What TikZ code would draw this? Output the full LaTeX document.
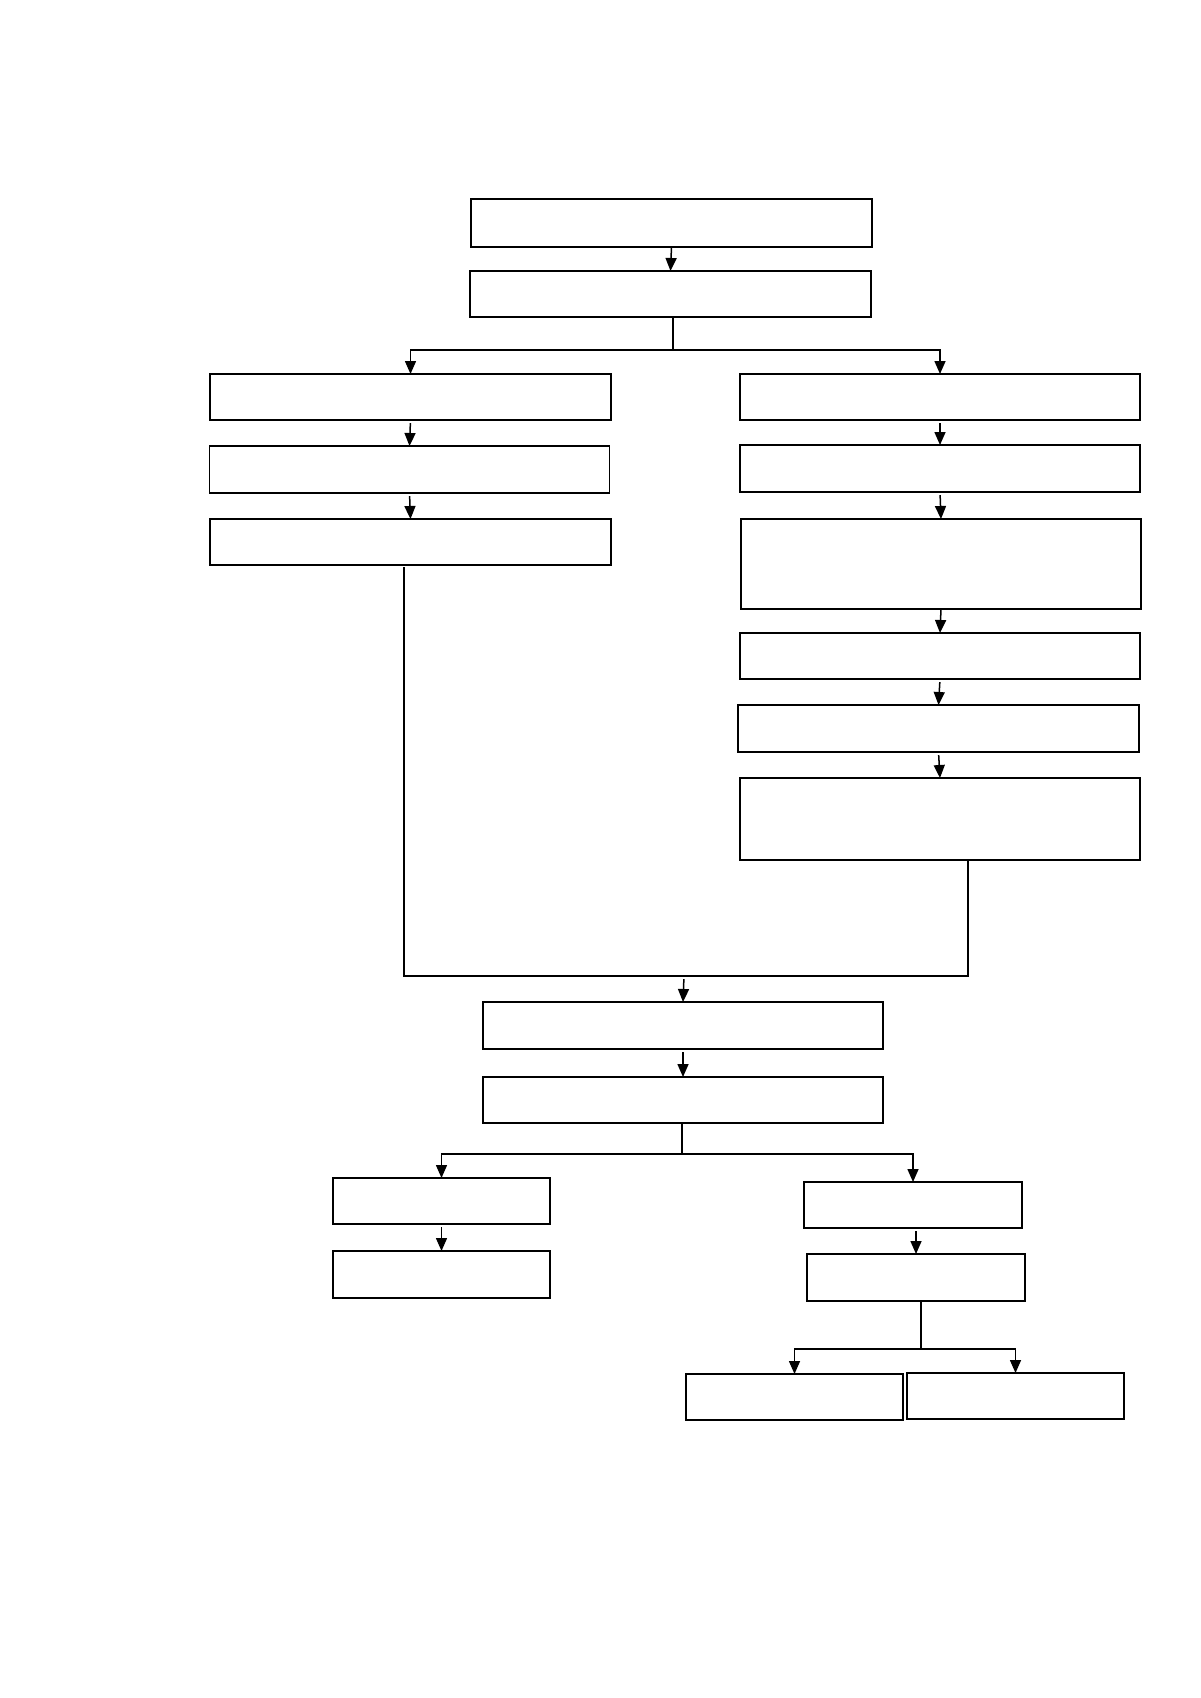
\documentclass[tikz,border=0pt]{standalone}
\usetikzlibrary{arrows.meta}
\begin{document}
\begin{tikzpicture}[x=0.5pt,y=-0.5pt,
  bx/.style 2 args={draw, line width=0.75pt, minimum width=#1*0.5pt, minimum height=#2*0.5pt, inner sep=0pt, outer sep=0pt},
  ln/.style={line width=0.75pt},
  arr/.style={line width=0.75pt, -{Triangle[length=6.5pt,width=5.5pt]}},
  gap/.style={shorten <=1.6pt}]
\useasboundingbox (0,0) rectangle (1200,1698);
% boxes
\node[bx={401}{48}] (A) at (671.5,223) {};
\node[bx={401}{46}] (B) at (670.5,294) {};
\node[bx={401}{46}] (L1) at (410.5,397) {};
\node[bx={400}{47}] (L2) at (409.5,469.5) {};
\node[bx={401}{46}] (L3) at (410.5,542) {};
\node[bx={400}{46}] (R1) at (940,397) {};
\node[bx={400}{47}] (R2) at (940,468.5) {};
\node[bx={400}{90}] (R3) at (941,564) {};
\node[bx={400}{46}] (R4) at (940,656) {};
\node[bx={401}{47}] (R5) at (938.5,728.5) {};
\node[bx={400}{82}] (R6) at (940,819) {};
\node[bx={400}{47}] (M1) at (683,1025.5) {};
\node[bx={400}{46}] (M2) at (683,1100) {};
\node[bx={217}{46}] (BL1) at (441.5,1201) {};
\node[bx={217}{47}] (BL2) at (441.5,1274.5) {};
\node[bx={218}{46}] (BR1) at (913,1205) {};
\node[bx={218}{47}] (BR2) at (916,1277.5) {};
\node[bx={217}{46}] (BB1) at (794.5,1397) {};
\node[bx={217}{46}] (BB2) at (1015.5,1396) {};
% junction points
\coordinate (j1) at (673,350);
\coordinate (m1) at (404,976);
\coordinate (m2) at (968,976);
\coordinate (mj) at (684,976);
\coordinate (j2) at (682,1154);
\coordinate (j3) at (921,1349);
% connectors
\draw[arr] (A.south) -- (B.north);
\draw[ln] (B.south -| j1) -- (j1);
\draw[arr] (j1) -| (L1.north);
\draw[arr] (j1) -| (R1.north);
\draw[arr,gap] (L1.south) -- (L2.north);
\draw[arr,gap] (L2.south) -- (L3.north);
\draw[arr,gap] (R1.south) -- (R2.north);
\draw[arr,gap] (R2.south) -- (R3.north);
\draw[arr] (R3.south) -- (R4.north);
\draw[arr,gap] (R4.south) -- (R5.north);
\draw[arr,gap] (R5.south) -- (R6.north);
\draw[ln,shorten <=1pt] (L3.south -| m1) -- (m1) -- (m2) -- (R6.south -| m2);
\draw[arr,gap] (mj) -- (M1.north);
\draw[arr,gap] (M1.south) -- (M2.north);
\draw[ln] (M2.south -| j2) -- (j2);
\draw[arr] (j2) -| (BL1.north);
\draw[arr] (j2) -| (BR1.north);
\draw[arr,gap] (BL1.south) -- (BL2.north);
\draw[arr,gap] (BR1.south -| BR2.north) -- (BR2.north);
\draw[ln] (BR2.south -| j3) -- (j3);
\draw[arr] (j3) -| (BB1.north);
\draw[arr] (j3) -| (BB2.north);
\end{tikzpicture}
\end{document}
